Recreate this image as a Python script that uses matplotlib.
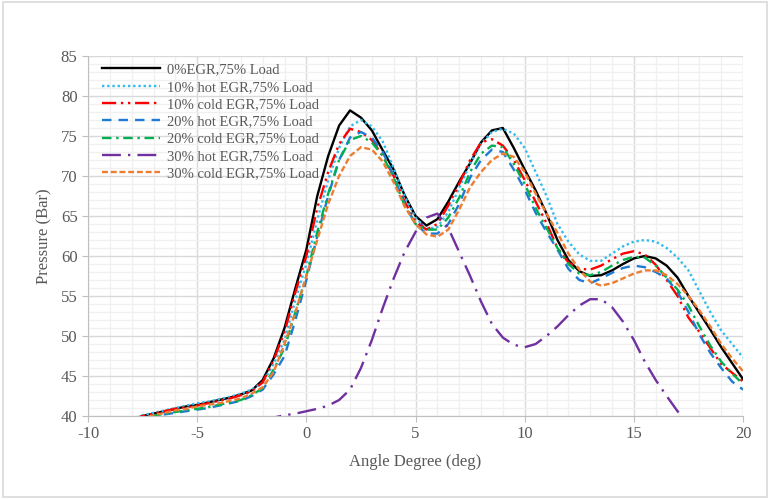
import matplotlib.pyplot as plt
import numpy as np
from matplotlib.patches import Rectangle

# Angle axis, -8 ... 20 deg in 0.5 deg steps
angle = np.arange(-8, 20.5, 0.5)

p_0egr = [39.5, 40.0, 40.3, 40.6, 40.9, 41.2, 41.4, 41.7, 42.0, 42.3, 42.7, 43.2, 44.5, 47.2, 51.0, 56.0,
          60.8, 67.5, 72.5, 76.3, 78.2, 77.3, 75.7, 73.2, 70.8, 67.6, 65.0, 63.8, 64.6, 66.8, 69.3, 71.6,
          74.2, 75.7, 76.0, 73.5, 70.8, 68.2, 65.3, 62.0, 59.5, 58.1, 57.5, 57.6, 58.2, 59.0, 59.7, 60.0,
          59.7, 58.8, 57.3, 55.0, 52.9, 50.8, 48.6, 46.6, 44.6]
p_10hot = [39.6, 40.1, 40.4, 40.7, 41.0, 41.3, 41.6, 41.8, 42.1, 42.4, 42.8, 43.3, 44.2, 46.5, 49.5, 54.5,
           59.0, 64.5, 69.5, 73.5, 76.2, 77.0, 76.2, 74.3, 71.0, 67.5, 64.8, 63.4, 63.6, 65.5, 68.5, 71.5,
           74.0, 75.5, 75.9, 75.3, 73.5, 70.5, 67.5, 64.0, 61.8, 60.2, 59.4, 59.4, 60.3, 61.2, 61.8, 62.0,
           61.8, 61.0, 59.8, 58.2, 55.6, 53.0, 50.7, 49.0, 47.3]
p_10cold = [39.5, 40.0, 40.3, 40.6, 40.9, 41.1, 41.3, 41.6, 41.9, 42.2, 42.6, 43.1, 44.2, 47.0, 50.5, 55.5,
            60.0, 66.0, 70.5, 74.0, 75.9, 75.5, 74.5, 72.5, 70.0, 66.8, 64.3, 63.3, 64.0, 66.3, 69.0, 72.0,
            74.2, 74.6, 73.8, 72.0, 69.5, 66.8, 64.1, 61.0, 59.2, 58.4, 58.3, 58.8, 59.6, 60.3, 60.6, 60.2,
            58.9, 57.0, 55.0, 52.3, 50.5, 48.5, 46.5, 45.4, 44.3]
p_20hot = [39.2, 39.6, 40.0, 40.2, 40.4, 40.6, 40.8, 41.0, 41.3, 41.6, 41.9, 42.5, 43.3, 45.2, 47.5, 52.0,
           57.0, 62.5, 67.5, 72.0, 74.8, 75.5, 74.8, 73.0, 70.0, 66.5, 64.0, 62.8, 62.8, 64.0, 66.5, 69.8,
           72.0, 73.3, 73.0, 70.8, 68.3, 65.4, 63.0, 60.8, 58.4, 57.0, 56.6, 57.2, 57.9, 58.5, 58.8, 58.6,
           58.0, 57.2, 55.5, 53.0, 50.2, 47.9, 46.0, 44.3, 43.3]
p_20cold = [39.3, 39.7, 40.0, 40.3, 40.5, 40.7, 40.9, 41.1, 41.4, 41.7, 42.0, 42.6, 43.5, 45.8, 48.5, 53.0,
            57.5, 63.0, 67.8, 72.0, 74.5, 75.0, 74.2, 72.5, 69.8, 66.3, 64.0, 63.3, 63.3, 64.8, 67.3, 70.5,
            72.8, 73.8, 73.6, 71.5, 69.0, 66.0, 63.5, 61.0, 59.0, 57.8, 57.6, 58.0, 58.8, 59.5, 59.9, 59.8,
            58.8, 57.3, 55.8, 53.8, 51.2, 48.8, 46.8, 45.3, 44.0]
p_30hot = [np.nan, np.nan, np.nan, np.nan, np.nan, np.nan, np.nan, np.nan, np.nan, np.nan, np.nan, np.nan,
           39.6, 39.8, 40.1, 40.3, 40.6, 40.9, 41.3, 42.0, 43.3, 46.0, 49.5, 53.5, 57.2, 60.5, 63.0, 64.8,
           65.3, 63.5, 60.5, 57.5, 54.3, 51.5, 49.8, 48.9, 48.6, 49.0, 50.0, 51.2, 52.6, 53.8, 54.6, 54.6,
           53.6, 51.8, 49.5, 46.8, 44.5, 42.5, 40.6, 39.0, np.nan, np.nan, np.nan, np.nan, np.nan]
p_30cold = [39.4, 39.8, 40.1, 40.4, 40.7, 40.9, 41.2, 41.4, 41.6, 41.9, 42.2, 42.8, 43.6, 45.5, 49.0, 53.0,
            57.5, 62.0, 66.5, 70.0, 72.5, 73.6, 73.3, 71.8, 69.2, 66.2, 64.0, 62.7, 62.4, 63.3, 65.8, 68.6,
            70.5, 72.0, 72.8, 72.4, 70.5, 67.8, 65.3, 62.9, 60.3, 58.3, 56.8, 56.3, 56.6, 57.2, 57.8, 58.2,
            58.2, 57.6, 56.5, 55.0, 53.2, 51.2, 49.0, 47.2, 45.6]

labels = ["0%EGR,75% Load", "10% hot EGR,75% Load", "10% cold EGR,75% Load",
          "20% hot EGR,75% Load", "20% cold EGR,75% Load", "30% hot EGR,75% Load",
          "30% cold EGR,75% Load"]

plt.rcParams['font.family'] = ['Liberation Serif', 'DejaVu Serif']
plt.rcParams['axes.unicode_minus'] = False
txt = '#595959'

fig = plt.figure(figsize=(7.7, 4.99), dpi=100)
ax = fig.add_axes([0.1143, 0.1663, 0.8507, 0.7215])
fig.patches.append(Rectangle((0.004, 0.004), 0.992, 0.992, transform=fig.transFigure,
                             fill=False, edgecolor='#D9D9D9', linewidth=1.2))

series = [
    (p_0egr, '#000000', '-'),
    (p_10hot, '#33BBEE', (0, (1, 1.2))),
    (p_10cold, '#FF0000', (0, (6, 2, 1, 2, 1, 2))),
    (p_20hot, '#1F7AD2', (0, (4, 3))),
    (p_20cold, '#00B050', (0, (4, 2, 1, 2))),
    (p_30hot, '#7030A0', (0, (8, 3, 1, 3))),
    (p_30cold, '#ED7D31', (0, (2.5, 1.2))),
]
for (vals, col, ls), lab in zip(series, labels):
    ax.plot(angle, vals, color=col, linestyle=ls, linewidth=1.7, label=lab)

ax.set_xlim(-10, 20)
ax.set_ylim(40, 85)
ax.set_xticks(np.arange(-10, 21, 5))
ax.set_yticks(np.arange(40, 86, 5))
ax.set_xticks(np.arange(-10, 21, 1), minor=True)
ax.set_yticks(np.arange(40, 86, 1), minor=True)
ax.grid(which='major', color='#D9D9D9', linewidth=1)
ax.grid(which='minor', color='#F0F0F0', linewidth=1)
ax.set_axisbelow(True)
for s in ['top', 'right']:
    ax.spines[s].set_visible(False)
for s in ['left', 'bottom']:
    ax.spines[s].set_color('#BFBFBF')
ax.tick_params(which='major', colors='#BFBFBF', labelcolor=txt, labelsize=12, length=4)
ax.tick_params(which='minor', length=0)

ax.set_xlabel("Angle Degree (deg)", fontsize=12, color=txt, labelpad=8)
ax.set_ylabel("Pressure (Bar)", fontsize=12, color=txt, labelpad=6)

ax.legend(loc='upper left', bbox_to_anchor=(0.01, 1.0), frameon=False, fontsize=10.5,
          handlelength=4.0, labelspacing=0.28, borderaxespad=0.1, handletextpad=0.5,
          labelcolor=txt)

fig.savefig('out.png', dpi=100)
